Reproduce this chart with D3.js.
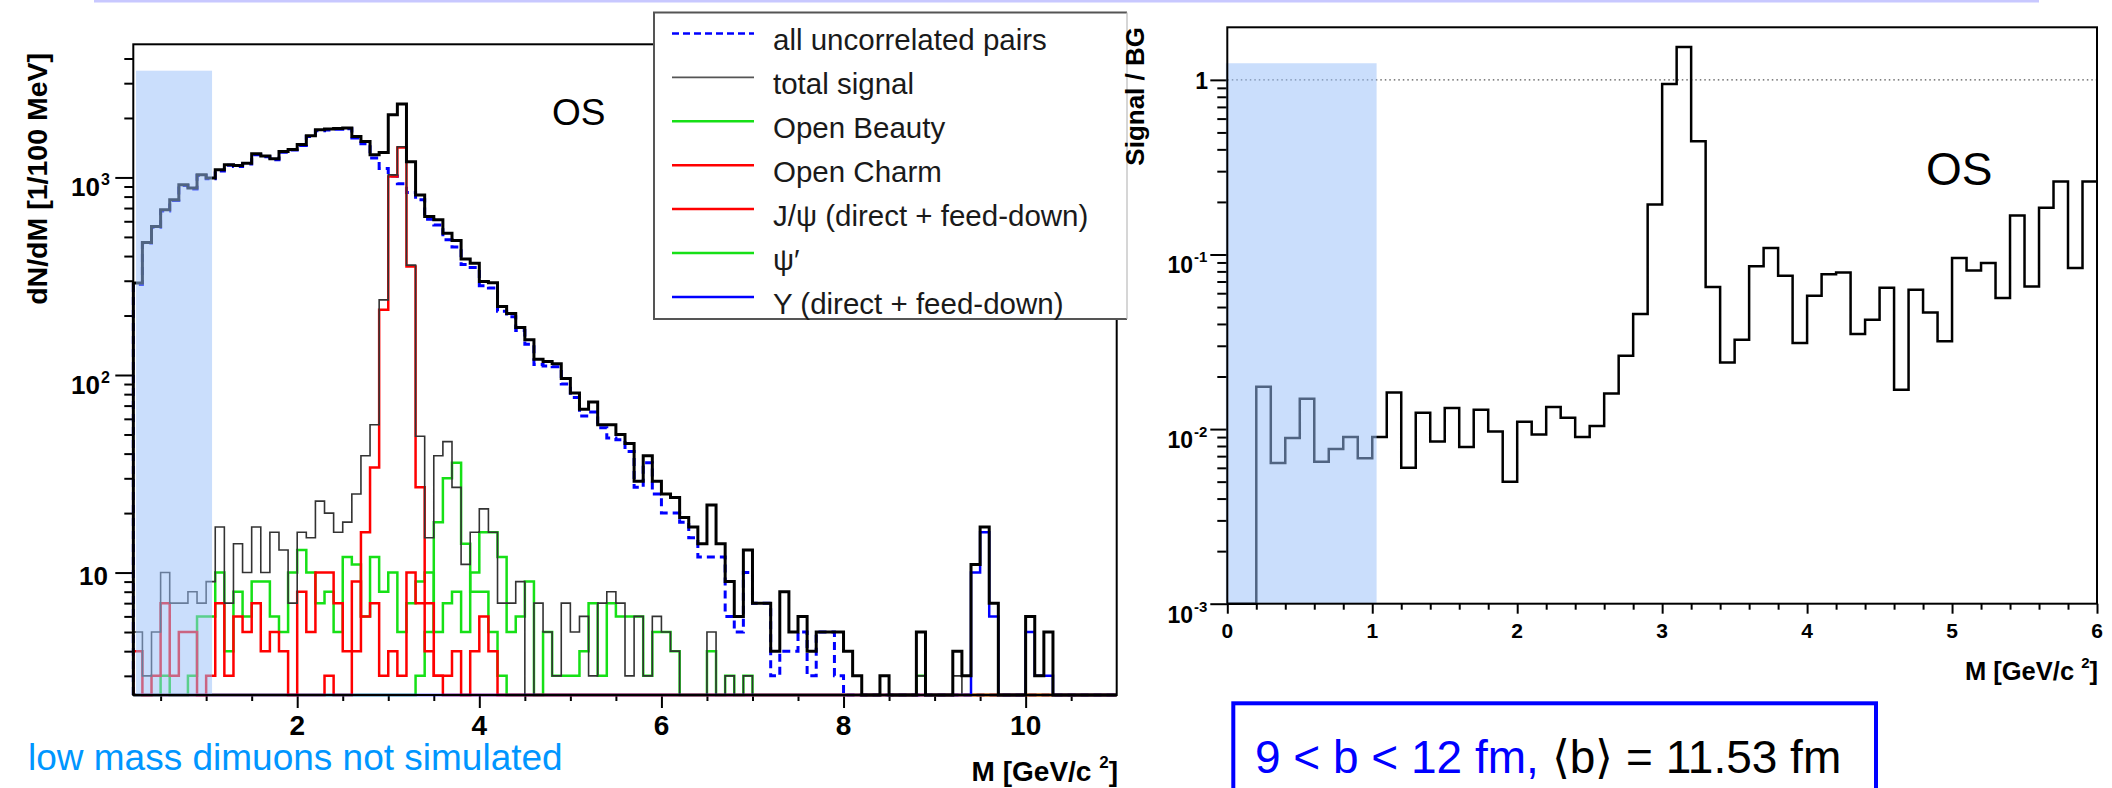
<!DOCTYPE html>
<html>
<head>
<meta charset="utf-8">
<script src="https://cdn.jsdelivr.net/npm/d3@7"></script>
<style>
  body { margin: 0; background: #fff; }
  svg { display: block; }
  text { font-family: "Liberation Sans", Arial, Helvetica, sans-serif; }
</style>
</head>
<body>
<svg id="chart" width="2112" height="788"></svg>
<script>
// ---- left panel: dN/dM histograms, 100 MeV bins from 0.2 to 11.0 GeV ----
const massStart = 0.2
const binWidth = 0.1

const totalCounts = [
  292, 469, 565, 687, 771, 918, 883, 1033, 994, 1094,
  1159, 1150, 1180, 1318, 1283, 1245, 1355, 1383, 1466, 1627,
  1745, 1760, 1770, 1780, 1610, 1520, 1304, 1338, 2075, 2355,
  1200, 816, 635, 610, 522, 480, 386, 368, 297, 293,
  222, 205, 174, 151, 120, 117, 114, 96, 81, 67,
  73, 56, 56, 50, 45, 29, 39, 29, 25, 24,
  19, 17, 14, 22, 14, 9, 6, 13, 7, 7,
  4, 8, 5, 6, 4, 5, 5, 5, 4, 3,
  0, 0, 3, 0, 0, 0, 5, 0, 0, 0,
  4, 3, 11, 17, 7, 0, 0, 0, 6, 3,
  5, 0, 0, 0, 0, 0, 0, 0
]
const uncorrelated = [
  287, 466, 560, 677, 764, 911, 875, 1024, 985, 1077,
  1152, 1136, 1170, 1301, 1273, 1229, 1342, 1376, 1450, 1612,
  1722, 1740, 1754, 1762, 1585, 1481, 1253, 1110, 1016, 928,
  840, 771, 615, 575, 484, 445, 362, 350, 283, 276,
  210, 197, 168, 143, 113, 111, 110, 90, 77, 62,
  65, 54, 48, 47, 41, 27, 36, 25, 20, 20,
  18, 15, 12, 12, 12, 6, 5, 10, 7, 7,
  3, 4, 4, 5, 3, 5, 5, 3, 0, 0,
  0, 0, 0, 0, 0, 0, 0, 0, 0, 0,
  0, 0, 0, 0, 0, 0, 0, 0, 0, 0,
  0, 0, 0, 0, 0, 0, 0, 0
]
const totalSignal = [
  5, 3, 5, 10, 7, 7, 8, 7, 9, 17,
  7, 14, 10, 17, 10, 16, 13, 7, 16, 15,
  23, 20, 16, 18, 25, 39, 56, 240, 1030, 1430,
  360, 49, 15, 39, 46, 27, 11, 16, 21, 16,
  7, 7, 9, 0, 7, 5, 3, 7, 5, 6,
  3, 7, 8, 7, 3, 6, 3, 6, 5, 4,
  0, 0, 0, 5, 0, 3, 0, 3, 0, 0,
  0, 0, 0, 0, 0, 0, 0, 0, 0, 0,
  0, 0, 0, 0, 0, 0, 3, 0, 0, 0,
  3, 0, 11, 17, 7, 0, 0, 0, 6, 3,
  3, 0, 0, 0, 0, 0, 0, 0
]
const openBeauty = [
  0, 0, 0, 3, 0, 0, 3, 6, 6, 10,
  4, 8, 6, 9, 9, 6, 5, 10, 13, 10,
  7, 8, 5, 12, 11, 6, 12, 8, 10, 5,
  7, 9, 10, 5, 7, 8, 5, 10, 16, 16,
  12, 5, 6, 9, 0, 5, 3, 3, 3, 4,
  7, 3, 7, 6, 6, 6, 3, 5, 5, 4,
  0, 0, 0, 4, 0, 3, 0, 3, 0, 0,
  0, 0, 0, 0, 0, 0, 0, 0, 0, 0,
  0, 0, 0, 0, 0, 0, 3, 0, 0, 0,
  0, 0, 0, 0, 0, 0, 0, 0, 0, 0,
  0, 0, 0, 0, 0, 0, 0, 0
]
const openCharm = [
  4, 0, 3, 7, 3, 5, 5, 0, 3, 7,
  3, 6, 5, 7, 4, 5, 4, 0, 8, 5,
  10, 10, 7, 4, 9, 6, 7, 3, 4, 3,
  10, 7, 4, 3, 3, 4, 0, 4, 6, 4,
  0, 0, 0, 0, 0, 0, 0, 0, 0, 0,
  0, 0, 0, 0, 0, 0, 0, 0, 0, 0,
  0, 0, 0, 0, 0, 0, 0, 0, 0, 0,
  0, 0, 0, 0, 0, 0, 0, 0, 0, 0,
  0, 0, 0, 0, 0, 0, 0, 0, 0, 0,
  0, 0, 0, 0, 0, 0, 0, 0, 0, 0,
  0, 0, 0, 0, 0, 0, 0, 0
]
const jpsi = [
  0, 0, 0, 0, 0, 0, 0, 0, 0, 0,
  0, 0, 0, 0, 0, 0, 0, 0, 0, 0,
  0, 3, 0, 0, 4, 16, 34, 214, 1012, 1419,
  354, 27, 7, 3, 0, 0, 0, 0, 0, 0,
  0, 0, 0, 0, 0, 0, 0, 0, 0, 0,
  0, 0, 0, 0, 0, 0, 0, 0, 0, 0,
  0, 0, 0, 0, 0, 0, 0, 0, 0, 0,
  0, 0, 0, 0, 0, 0, 0, 0, 0, 0,
  0, 0, 0, 0, 0, 0, 0, 0, 0, 0,
  0, 0, 0, 0, 0, 0, 0, 0, 0, 0,
  0, 0, 0, 0, 0, 0, 0, 0
]
const psiPrime = [
  0, 0, 0, 0, 0, 0, 0, 0, 0, 0,
  0, 0, 0, 0, 0, 0, 0, 0, 0, 0,
  0, 0, 0, 0, 0, 0, 0, 0, 0, 0,
  0, 3, 5, 18, 30, 36, 14, 8, 8, 5,
  3, 0, 0, 0, 0, 0, 0, 0, 0, 0,
  0, 0, 0, 0, 0, 0, 0, 0, 0, 0,
  0, 0, 0, 0, 0, 0, 0, 0, 0, 0,
  0, 0, 0, 0, 0, 0, 0, 0, 0, 0,
  0, 0, 0, 0, 0, 0, 0, 0, 0, 0,
  0, 0, 0, 0, 0, 0, 0, 0, 0, 0,
  0, 0, 0, 0, 0, 0, 0, 0
]
const upsilon = [
  0, 0, 0, 0, 0, 0, 0, 0, 0, 0,
  0, 0, 0, 0, 0, 0, 0, 0, 0, 0,
  0, 0, 0, 0, 0, 0, 0, 0, 0, 0,
  0, 0, 0, 0, 0, 0, 0, 0, 0, 0,
  0, 0, 0, 0, 0, 0, 0, 0, 0, 0,
  0, 0, 0, 0, 0, 0, 0, 0, 0, 0,
  0, 0, 0, 0, 0, 0, 0, 0, 0, 0,
  0, 0, 0, 0, 0, 0, 0, 0, 0, 0,
  0, 0, 0, 0, 0, 0, 0, 0, 0, 0,
  0, 0, 10, 16, 6, 0, 0, 0, 5, 3,
  3, 0, 0, 0, 0, 0, 0, 0
]

const legendLabels = [
  'all uncorrelated pairs', 'total signal', 'Open Beauty', 'Open Charm',
  'J/\u03C8 (direct + feed-down)', '\u03C8\u2032', '\u03A5 (direct + feed-down)'
]
const leftXTicks = [2, 4, 6, 8, 10]
const leftYTicks = [10, 100, 1000]

// ---- right panel: signal / background, 100 MeV bins from 0 to 6 GeV ----
const ratioStart = 0
const signalOverBG = [
  0, 0, 0.0175, 0.0064, 0.0089, 0.0149, 0.0065, 0.0077, 0.0090, 0.0068,
  0.0090, 0.0162, 0.0060, 0.0124, 0.0085, 0.0132, 0.0079, 0.0129, 0.0097, 0.0050,
  0.0110, 0.0093, 0.0134, 0.0116, 0.0090, 0.0104, 0.0160, 0.0263, 0.0456, 0.193,
  0.948, 1.54, 0.445, 0.0652, 0.0241, 0.0325, 0.0855, 0.109, 0.0756, 0.0311,
  0.058, 0.0771, 0.0789, 0.035, 0.0423, 0.0644, 0.0168, 0.0629, 0.0466, 0.0318,
  0.0955, 0.081, 0.0894, 0.0563, 0.167, 0.0656, 0.185, 0.262, 0.0837, 0.262
]
const rightXTicks = [0, 1, 2, 3, 4, 5, 6]
const rightYTicks = [0.001, 0.01, 0.1, 1]

// ranges of the "not simulated" bands (GeV, counts / ratio)
const lowMassBandL = [0.23, 1.065, 3470]
const lowMassBandR = [-0.01, 1.03, 1.245]

const FONT = '"Liberation Sans", Arial, Helvetica, sans-serif'
const svg = d3.select('#chart')

// decorative slide rule at the very top
svg.append('rect').attr('x', 94).attr('y', 0).attr('width', 1945).attr('height', 2.5).attr('fill', '#c8c8ff')

const xL = d3.scaleLinear().domain([0.2, 11.0]).range([133.3, 1116.7])
const yL = d3.scaleLog().domain([2.4, 4720]).range([695, 44.3])
const xR = d3.scaleLinear().domain([0, 6]).range([1227.3, 2097])
const yR = d3.scaleLog().domain([0.001, 2.0]).range([603.7, 27.3])

function edgesFor (start, n) {
  return d3.range(n + 1).map(i => +(start + i * binWidth).toFixed(2))
}

function histPath (x, y, values, start) {
  const edges = edgesFor(start, values.length)
  const ymin = y.domain()[0]
  const pts = [[edges[0], ymin]]
  values.forEach((v, i) => pts.push([edges[i], Math.max(v, ymin)]))
  pts.push([edges[values.length], Math.max(values[values.length - 1], ymin)])
  return d3.line().x(d => x(d[0])).y(d => y(d[1])).curve(d3.curveStepAfter)(pts)
}

function frame (x, y, id) {
  const [x0, x1] = x.range()
  const [y0, y1] = y.range()
  svg.append('clipPath').attr('id', id)
    .append('rect').attr('x', x0 - 2).attr('y', y1).attr('width', x1 - x0 + 4).attr('height', y0 - y1 + 2)
  svg.append('rect')
    .attr('x', x0).attr('y', y1).attr('width', x1 - x0).attr('height', y0 - y1)
    .attr('fill', 'none').attr('stroke', '#000').attr('stroke-width', 2)
}

function minorLogTicks (y) {
  const [lo, hi] = y.domain()
  const out = []
  for (let e = -4; e <= 4; e++) {
    for (let k = 2; k <= 9; k++) {
      const v = k * Math.pow(10, e)
      if (v > lo && v < hi) out.push(v)
    }
  }
  return out
}

function tickAxis (g, axis, values, size) {
  g.call(axis.tickValues(values).tickSize(size).tickFormat(''))
  g.select('.domain').remove()
  g.selectAll('.tick line').attr('stroke', '#000').attr('stroke-width', 2)
}

// exponent label "10^n" (or plain number)
function powLabel (g, x, yBase, v, size, supSize, plainShift) {
  const e = Math.round(Math.log10(v))
  if (e === 1 || e === 0) {
    g.append('text').attr('x', x).attr('y', yBase + plainShift)
      .attr('text-anchor', 'end').attr('font-size', size).attr('font-weight', 'bold')
      .text(e === 1 ? '10' : '1')
    return
  }
  const sup = String(e)
  const supW = sup.length * supSize * 0.5
  g.append('text').attr('x', x - supW).attr('y', yBase + 19)
    .attr('text-anchor', 'end').attr('font-size', size).attr('font-weight', 'bold').text('10')
  g.append('text').attr('x', x - supW + 1).attr('y', yBase + 8)
    .attr('font-size', supSize).attr('font-weight', 'bold').text(sup)
}

// ================= LEFT PANEL =================
const left = svg.append('g')
frame(xL, yL, 'clipL')

const leftMinorX = d3.range(0.5, 11.0, 0.5).filter(v => !leftXTicks.includes(v))
tickAxis(left.append('g').attr('transform', 'translate(0,695)'), d3.axisBottom(xL), leftMinorX, 6)
tickAxis(left.append('g').attr('transform', 'translate(0,695)'), d3.axisBottom(xL), leftXTicks, 13)
tickAxis(left.append('g').attr('transform', 'translate(133.3,0)'), d3.axisLeft(yL), minorLogTicks(yL), 9)
tickAxis(left.append('g').attr('transform', 'translate(133.3,0)'), d3.axisLeft(yL), leftYTicks, 18)

left.selectAll('.xlab').data(leftXTicks).enter().append('text')
  .attr('x', d => xL(d)).attr('y', 735)
  .attr('text-anchor', 'middle').attr('font-size', 28).attr('font-weight', 'bold')
  .text(d => d)

leftYTicks.forEach(v => powLabel(left, 108, yL(v), v, 26, 16, 12))

const hL = left.append('g').attr('clip-path', 'url(#clipL)').attr('fill', 'none')
const seriesL = [
  { v: uncorrelated, c: '#0000ff', w: 3, dash: '8,5' },
  { v: openBeauty, c: '#16e016', w: 2.5 },
  { v: psiPrime, c: '#16e016', w: 2.5 },
  { v: openCharm, c: '#ff0000', w: 2.5 },
  { v: jpsi, c: '#ff0000', w: 2.5 },
  { v: totalSignal, c: '#333', w: 1.6 },
  { v: upsilon, c: '#0000ff', w: 2.5 },
  { v: totalCounts, c: '#000', w: 3 }
]
seriesL.forEach(s => {
  hL.append('path')
    .attr('d', histPath(xL, yL, s.v, massStart))
    .attr('stroke', s.c).attr('stroke-width', s.w)
    .attr('stroke-dasharray', s.dash || null)
    .attr('stroke-linejoin', 'miter')
})

// not simulated band
left.append('rect')
  .attr('x', xL(lowMassBandL[0])).attr('width', xL(lowMassBandL[1]) - xL(lowMassBandL[0]))
  .attr('y', yL(lowMassBandL[2])).attr('height', 695 - yL(lowMassBandL[2]))
  .attr('fill', 'rgb(154,192,250)').attr('fill-opacity', 0.52)

left.append('text').attr('x', 552).attr('y', 125).attr('font-size', 37).text('OS')

left.append('text')
  .attr('transform', 'translate(47,53) rotate(-90)')
  .attr('text-anchor', 'end').attr('font-size', 28.5).attr('font-weight', 'bold')
  .text('dN/dM [1/100 MeV]')

const xtL = left.append('text').attr('x', 1118).attr('y', 781)
  .attr('text-anchor', 'end').attr('font-size', 28).attr('font-weight', 'bold')
xtL.append('tspan').text('M [GeV/c ')
xtL.append('tspan').attr('dy', -13).attr('font-size', 17).text('2')
xtL.append('tspan').attr('dy', 13).text(']')

left.append('text').attr('x', 28).attr('y', 770)
  .attr('font-size', 37).attr('fill', '#0096ff')
  .text('low mass dimuons not simulated')

// legend
const lg = svg.append('g')
lg.append('rect').attr('x', 654).attr('y', 12.5).attr('width', 473).attr('height', 306.5)
  .attr('fill', '#fff').attr('stroke', 'none')
lg.append('path').attr('d', 'M1127,12.5 H654 V319 H1127').attr('fill', 'none').attr('stroke', '#555').attr('stroke-width', 2)
lg.append('path').attr('d', 'M1127,12.5 V319').attr('stroke', '#bbb').attr('stroke-width', 1.2)
const legStyles = [seriesL[0], seriesL[5], seriesL[1], seriesL[3], seriesL[4], seriesL[2], seriesL[6]]
legendLabels.forEach((label, i) => {
  const y = 33.5 + i * 43.9
  const s = legStyles[i]
  lg.append('line').attr('x1', 672).attr('x2', 754).attr('y1', y).attr('y2', y)
    .attr('stroke', i === 1 ? '#555' : s.c).attr('stroke-width', i === 1 ? 1.6 : 2.5)
    .attr('stroke-dasharray', s.dash ? '7,4' : null)
  lg.append('text').attr('x', 773).attr('y', y + 16.8)
    .attr('font-size', 29.5).attr('fill', '#1a1a1a').text(label)
})

// ================= RIGHT PANEL =================
const right = svg.append('g')
frame(xR, yR, 'clipR')

const rightMinorX = d3.range(0.2, 6.0, 0.2).map(v => +v.toFixed(1)).filter(v => !rightXTicks.includes(v))
tickAxis(right.append('g').attr('transform', 'translate(0,603.7)'), d3.axisBottom(xR), rightMinorX, 6)
tickAxis(right.append('g').attr('transform', 'translate(0,603.7)'), d3.axisBottom(xR), rightXTicks, 10)
tickAxis(right.append('g').attr('transform', 'translate(1227.3,0)'), d3.axisLeft(yR), minorLogTicks(yR), 10)
tickAxis(right.append('g').attr('transform', 'translate(1227.3,0)'), d3.axisLeft(yR), rightYTicks, 17)

right.selectAll('.xlab').data(rightXTicks).enter().append('text')
  .attr('x', d => xR(d)).attr('y', 638)
  .attr('text-anchor', 'middle').attr('font-size', 21).attr('font-weight', 'bold')
  .text(d => d)

rightYTicks.forEach(v => powLabel(right, 1208, yR(v), v, 23, 15, 9))

right.append('line')
  .attr('x1', xR(0)).attr('x2', xR(6)).attr('y1', yR(1)).attr('y2', yR(1))
  .attr('stroke', '#555').attr('stroke-width', 1.3).attr('stroke-dasharray', '1.5,3')

right.append('g').attr('clip-path', 'url(#clipR)').append('path')
  .attr('d', histPath(xR, yR, signalOverBG, ratioStart))
  .attr('fill', 'none').attr('stroke', '#000').attr('stroke-width', 2.5)

right.append('rect')
  .attr('x', xR(lowMassBandR[0])).attr('width', xR(lowMassBandR[1]) - xR(lowMassBandR[0]))
  .attr('y', yR(lowMassBandR[2])).attr('height', 603.7 - yR(lowMassBandR[2]))
  .attr('fill', 'rgb(154,192,250)').attr('fill-opacity', 0.52)

right.append('text').attr('x', 1926).attr('y', 185).attr('font-size', 46).text('OS')

right.append('text')
  .attr('transform', 'translate(1144,27) rotate(-90)')
  .attr('text-anchor', 'end').attr('font-size', 26).attr('font-weight', 'bold')
  .text('Signal / BG')

const xtR = right.append('text').attr('x', 2098).attr('y', 680)
  .attr('text-anchor', 'end').attr('font-size', 25.5).attr('font-weight', 'bold')
xtR.append('tspan').text('M [GeV/c ')
xtR.append('tspan').attr('dy', -12).attr('font-size', 15).text('2')
xtR.append('tspan').attr('dy', 12).text(']')

// centrality box
right.append('rect').attr('x', 1233.3).attr('y', 703.3).attr('width', 642.7).attr('height', 120)
  .attr('fill', 'none').attr('stroke', '#0000ff').attr('stroke-width', 4)
const bt = right.append('text').attr('x', 1255).attr('y', 773).attr('font-size', 46)
bt.append('tspan').attr('fill', '#0000ff').text('9 < b < 12 fm, ')
bt.append('tspan').attr('fill', '#000').text('\u27E8b\u27E9 = 11.53 fm')
</script>
</body>
</html>
